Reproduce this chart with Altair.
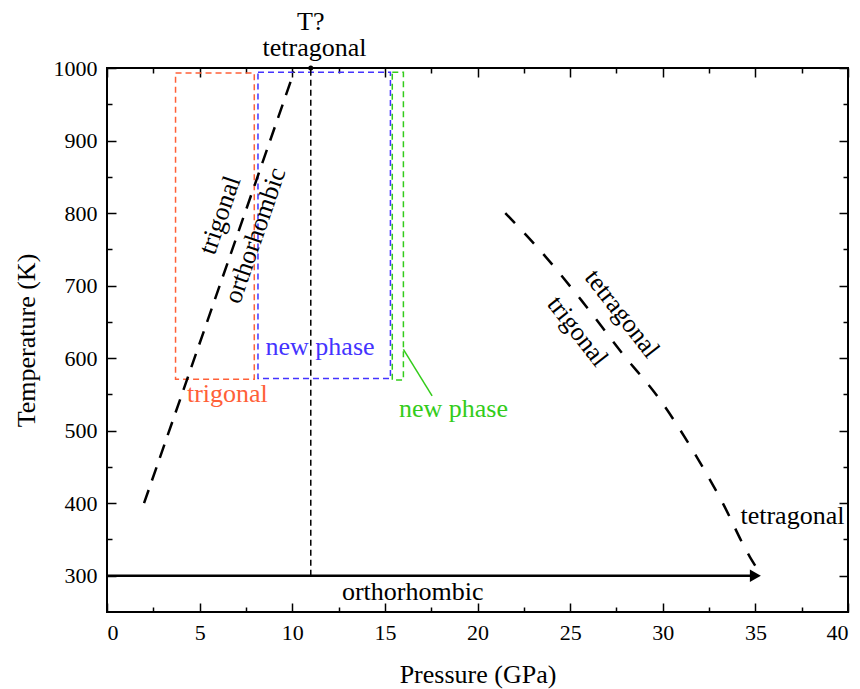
import altair as alt
import pandas as pd

FONT = "Liberation Serif"
W, H = 741, 544

# axis ticks
x_major = [0, 5, 10, 15, 20, 25, 30, 35, 40]
x_minor = [2.5, 7.5, 12.5, 17.5, 22.5, 27.5, 32.5, 37.5]
y_major = [300, 400, 500, 600, 700, 800, 900, 1000]
y_minor = [350, 450, 550, 650, 750, 850, 950]

# phase boundaries
left_p = [2.0, 10.1]
left_t = [400, 995]
right_p = [21.5, 23.5, 25.6, 27.8, 29.9, 31.5, 33.2, 34.7, 35.35]
right_t = [800, 745, 680, 607, 541, 478, 402, 326, 300]

# vertical dashed line at 11 GPa
vline_p = [11.0]
vline_t0 = [300]
vline_t1 = [1000]

# horizontal arrow at 300 K
arrow_p0 = [0.0]
arrow_p1 = [35.0]
arrow_t = [300]

# dashed boxes
box_name = ["orange", "blue", "green"]
box_p0 = [3.7, 8.15, 15.4]
box_p1 = [7.95, 15.3, 16.0]
box_t0 = [571, 572, 570]
box_t1 = [993, 994, 994]
box_color = ["#ff6038", "#4433ff", "#33cc1a"]

# green pointer
ptr_p0 = [16.0]
ptr_p1 = [17.55]
ptr_t0 = [612]
ptr_t1 = [548]

# annotations
txt = ["T?", "tetragonal", "trigonal", "orthorhombic", "new phase", "trigonal",
       "new phase", "tetragonal", "trigonal", "tetragonal", "orthorhombic"]
txt_p = [11.0, 11.2, 6.1, 8.0, 11.5, 6.5, 18.7, 27.8, 25.4, 37.0, 16.5]
txt_t = [1064, 1028, 797, 769, 615, 550, 530, 661, 637, 383, 278]
txt_angle = [0, 0, 289, 289, 0, 0, 0, 52, 52, 0, 0]
txt_color = ["black", "black", "black", "black", "#4433ff", "#ff6038",
             "#33cc1a", "black", "black", "black", "black"]

xs = alt.Scale(domain=[0, 40], nice=False, zero=False)
ys = alt.Scale(domain=[250, 1000], nice=False, zero=False)

main_x_axis = alt.Axis(values=x_major, format="d", tickSize=0, labelPadding=10, domain=False, grid=False,
                       title="Pressure (GPa)", titlePadding=18, labelFontSize=22,
                       titleFontSize=26, labelFont=FONT, titleFont=FONT,
                       labelColor="black", titleColor="black", titleFontWeight="normal")
main_y_axis = alt.Axis(values=y_major, format="d", tickSize=0, labelPadding=10, domain=False, grid=False,
                       title="Temperature (K)", titlePadding=14, labelFontSize=22,
                       titleFontSize=26, labelFont=FONT, titleFont=FONT,
                       labelColor="black", titleColor="black", titleFontWeight="normal")

boxes = pd.DataFrame({"name": box_name, "p0": box_p0, "p1": box_p1, "t0": box_t0, "t1": box_t1})
box_layer = alt.Chart(boxes).mark_rect(filled=False, strokeWidth=1.5, strokeDash=[6, 4]).encode(
    x=alt.X("p0:Q", scale=xs, axis=main_x_axis),
    x2="p1:Q",
    y=alt.Y("t0:Q", scale=ys, axis=main_y_axis),
    y2="t1:Q",
    stroke=alt.Color("name:N", scale=alt.Scale(domain=box_name, range=box_color), legend=None),
)

left_df = pd.DataFrame({"p": left_p, "t": left_t})
left_layer = alt.Chart(left_df).mark_line(color="black", strokeWidth=2.5, strokeDash=[14, 10]).encode(
    x=alt.X("p:Q", scale=xs, axis=None), y=alt.Y("t:Q", scale=ys, axis=None))

right_df = pd.DataFrame({"p": right_p, "t": right_t})
right_layer = alt.Chart(right_df).mark_line(color="black", strokeWidth=2.5, strokeDash=[14, 14],
                                            interpolate="monotone").encode(
    x=alt.X("p:Q", scale=xs, axis=None), y=alt.Y("t:Q", scale=ys, axis=None))

vline_df = pd.DataFrame({"p": vline_p, "t0": vline_t0, "t1": vline_t1})
vline_layer = alt.Chart(vline_df).mark_rule(color="black", strokeWidth=1.5, strokeDash=[6, 4]).encode(
    x=alt.X("p:Q", scale=xs, axis=None), y=alt.Y("t0:Q", scale=ys, axis=None), y2="t1:Q")
dot_layer = alt.Chart(vline_df).mark_point(color="black", filled=True, size=25, opacity=1).encode(
    x=alt.X("p:Q", scale=xs, axis=None), y=alt.Y("t1:Q", scale=ys, axis=None))

arrow_df = pd.DataFrame({"p0": arrow_p0, "p1": arrow_p1, "t": arrow_t})
arrow_layer = alt.Chart(arrow_df).mark_rule(color="black", strokeWidth=2.5).encode(
    x=alt.X("p0:Q", scale=xs, axis=None), x2="p1:Q", y=alt.Y("t:Q", scale=ys, axis=None))
head_layer = alt.Chart(arrow_df).mark_point(shape="triangle-right", filled=True, color="black",
                                            size=160, opacity=1).encode(
    x=alt.X("p1:Q", scale=xs, axis=None), y=alt.Y("t:Q", scale=ys, axis=None))

ptr_df = pd.DataFrame({"p0": ptr_p0, "p1": ptr_p1, "t0": ptr_t0, "t1": ptr_t1})
ptr_layer = alt.Chart(ptr_df).mark_rule(color="#33cc1a", strokeWidth=1.5).encode(
    x=alt.X("p0:Q", scale=xs, axis=None), x2="p1:Q",
    y=alt.Y("t0:Q", scale=ys, axis=None), y2="t1:Q")

txt_df = pd.DataFrame({"label": txt, "p": txt_p, "t": txt_t, "angle": txt_angle, "color": txt_color})
text_layer = alt.Chart(txt_df).mark_text(font=FONT, fontSize=26, align="center", baseline="middle").encode(
    x=alt.X("p:Q", scale=xs, axis=None), y=alt.Y("t:Q", scale=ys, axis=None),
    text="label:N", angle=alt.Angle("angle:Q", scale=None), color=alt.Color("color:N", scale=None))


def tick_layer(xvals, yvals, size, xorient, yorient):
    n = max(len(xvals), len(yvals))
    df = pd.DataFrame({"p": [0.0] * n, "t": [300.0] * n})
    return alt.Chart(df).mark_point(opacity=0).encode(
        x=alt.X("p:Q", scale=xs, axis=alt.Axis(orient=xorient, offset=-H, values=xvals, tickSize=size,
                                                 tickWidth=1.5, tickColor="black", labels=False,
                                                 domain=False, grid=False, title=None)),
        y=alt.Y("t:Q", scale=ys, axis=alt.Axis(orient=yorient, offset=-W, values=yvals, tickSize=size,
                                                 tickWidth=1.5, tickColor="black", labels=False,
                                                 domain=False, grid=False, title=None)),
    )


t1 = tick_layer(x_major, y_major, 9, "top", "right")
t2 = tick_layer(x_minor, y_minor, 5, "top", "right")
t3 = tick_layer(x_major, y_major, 9, "bottom", "left")
t4 = tick_layer(x_minor, y_minor, 5, "bottom", "left")

chart = alt.layer(box_layer, vline_layer, left_layer, right_layer, arrow_layer, head_layer,
                  dot_layer, ptr_layer, text_layer, t1, t2, t3, t4).resolve_axis(
    x="independent", y="independent").properties(
    width=W, height=H,
    background="white",
    autosize=alt.AutoSizeParams(type="none"),
    padding={"left": 99, "top": 60, "right": 4, "bottom": 77},
).configure_view(stroke="black", strokeWidth=2).configure_axis(
    labelFont=FONT, titleFont=FONT, labelFontSize=22, titleFontSize=26,
    labelColor="black", titleColor="black", titleFontWeight="normal")

chart.save("out.html", embed_options={"renderer": "svg", "actions": False})
